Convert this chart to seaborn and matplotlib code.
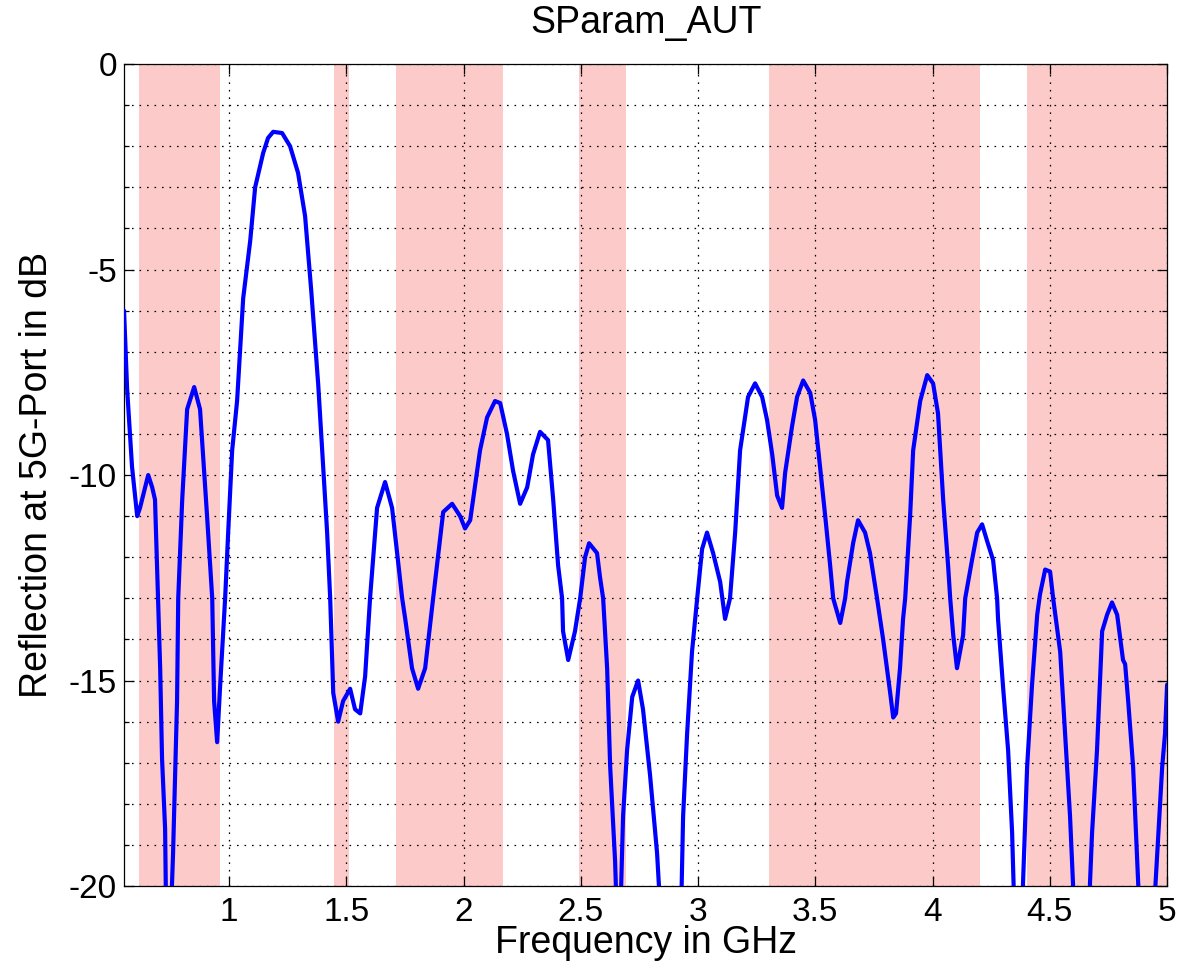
import numpy as np
import pandas as pd
import matplotlib
matplotlib.use("Agg")
import matplotlib.pyplot as plt
import seaborn as sns
from matplotlib.ticker import MultipleLocator, NullLocator, FixedLocator

# ---------------- data ----------------
freq_ghz = [
    0.552, 0.565, 0.586, 0.608, 0.620, 0.655, 0.672, 0.684, 0.697, 0.706,
    0.714, 0.727, 0.731, 0.744, 0.753, 0.761, 0.778, 0.783, 0.800, 0.821,
    0.851, 0.876, 0.906, 0.928, 0.936, 0.949, 0.962, 0.983, 0.996, 1.013,
    1.034, 1.060, 1.090, 1.111, 1.145, 1.166, 1.188, 1.226, 1.260, 1.294,
    1.324, 1.350, 1.380, 1.397, 1.418, 1.431, 1.444, 1.465, 1.486, 1.516,
    1.537, 1.559, 1.580, 1.601, 1.631, 1.665, 1.695, 1.738, 1.751, 1.780,
    1.806, 1.836, 1.870, 1.913, 1.951, 1.985, 2.006, 2.028, 2.070, 2.100,
    2.134, 2.156, 2.185, 2.211, 2.241, 2.271, 2.296, 2.326, 2.360, 2.382,
    2.403, 2.420, 2.424, 2.446, 2.475, 2.497, 2.518, 2.535, 2.569, 2.582,
    2.595, 2.612, 2.625, 2.646, 2.655, 2.667, 2.680, 2.697, 2.719, 2.744,
    2.765, 2.795, 2.825, 2.838, 2.881, 2.928, 2.936, 2.953, 2.974, 2.996,
    3.017, 3.038, 3.064, 3.094, 3.115, 3.136, 3.158, 3.179, 3.213, 3.243,
    3.273, 3.294, 3.316, 3.337, 3.358, 3.371, 3.401, 3.422, 3.448, 3.478,
    3.499, 3.520, 3.542, 3.563, 3.576, 3.606, 3.627, 3.635, 3.661, 3.682,
    3.712, 3.733, 3.763, 3.789, 3.819, 3.832, 3.844, 3.861, 3.874, 3.883,
    3.904, 3.917, 3.947, 3.977, 4.002, 4.023, 4.045, 4.066, 4.075, 4.088,
    4.104, 4.130, 4.139, 4.168, 4.190, 4.211, 4.232, 4.258, 4.275, 4.279,
    4.301, 4.322, 4.339, 4.348, 4.365, 4.382, 4.403, 4.424, 4.446, 4.458,
    4.480, 4.501, 4.514, 4.544, 4.565, 4.586, 4.603, 4.638, 4.667, 4.680,
    4.701, 4.723, 4.744, 4.765, 4.787, 4.812, 4.821, 4.834, 4.855, 4.881,
    4.915, 4.945, 4.979, 4.991, 5.000,
]
refl_db = [
    -6.0, -7.9, -9.8, -11.0, -10.8, -10.0, -10.3, -10.6, -13.0, -14.7,
    -16.9, -18.6, -20.5, -22.0, -20.5, -19.2, -15.5, -13.0, -10.6, -8.4,
    -7.86, -8.4, -11.0, -13.0, -15.5, -16.5, -15.1, -13.0, -11.4, -9.4,
    -8.2, -5.7, -4.3, -3.0, -2.17, -1.8, -1.65, -1.68, -2.0, -2.65,
    -3.7, -5.5, -7.8, -9.4, -11.4, -13.0, -15.3, -16.0, -15.5, -15.2,
    -15.7, -15.8, -14.9, -13.0, -10.8, -10.17, -10.8, -13.0, -13.5, -14.7,
    -15.2, -14.7, -13.0, -10.9, -10.7, -11.0, -11.3, -11.1, -9.4, -8.6,
    -8.2, -8.25, -9.0, -9.9, -10.7, -10.3, -9.5, -8.95, -9.15, -10.6,
    -12.2, -13.0, -13.8, -14.5, -13.8, -13.0, -12.0, -11.66, -11.9, -12.5,
    -13.0, -14.7, -17.1, -19.4, -21.0, -21.0, -18.3, -16.7, -15.4, -15.0,
    -15.7, -17.3, -19.2, -20.5, -24.0, -20.5, -18.3, -16.3, -14.3, -13.0,
    -11.8, -11.4, -11.9, -12.6, -13.5, -13.0, -11.4, -9.4, -8.1, -7.77,
    -8.1, -8.66, -9.5, -10.5, -10.8, -9.95, -8.8, -8.1, -7.7, -8.0,
    -8.66, -9.8, -11.0, -12.2, -13.0, -13.6, -13.0, -12.6, -11.66, -11.1,
    -11.4, -11.9, -13.0, -14.0, -15.3, -15.9, -15.8, -14.7, -13.5, -13.0,
    -11.0, -9.4, -8.2, -7.57, -7.77, -8.5, -10.6, -12.2, -13.0, -13.9,
    -14.7, -13.9, -13.0, -12.07, -11.4, -11.2, -11.6, -12.07, -13.0, -13.5,
    -15.2, -16.7, -18.7, -20.5, -22.0, -20.5, -17.1, -15.1, -13.4, -12.9,
    -12.3, -12.35, -13.0, -14.3, -16.3, -18.3, -20.5, -24.0, -20.5, -18.7,
    -16.7, -13.8, -13.4, -13.1, -13.4, -14.5, -14.6, -15.5, -17.1, -20.5,
    -24.0, -20.5, -17.1, -16.3, -15.1,
]

band_start_ghz = [0.617, 1.449, 1.712, 2.494, 3.303, 4.403]
band_end_ghz = [0.960, 1.511, 2.168, 2.692, 4.203, 5.000]

x_ticks = [1.0, 1.5, 2.0, 2.5, 3.0, 3.5, 4.0, 4.5, 5.0]
x_tick_labels = ["1", "1.5", "2", "2.5", "3", "3.5", "4", "4.5", "5"]
y_ticks = [0, -5, -10, -15, -20]
y_tick_labels = ["0", "-5", "-10", "-15", "-20"]

title_text = "SParam_AUT"
x_label = "Frequency in GHz"
y_label = "Reflection at 5G-Port in dB"

# ---------------- style ----------------
sns.set_style("ticks")
plt.rcParams["font.family"] = ["Liberation Sans", "DejaVu Sans"]
plt.rcParams["axes.linewidth"] = 0.9
for key in ["text.color", "axes.labelcolor", "xtick.color", "ytick.color",
            "xtick.labelcolor", "ytick.labelcolor", "axes.edgecolor"]:
    plt.rcParams[key] = "black"

fig = plt.figure(figsize=(11.77, 9.77), dpi=100)
ax = fig.add_axes([0.1054, 0.0931, 0.8862, 0.8414])

# frequency bands
for s, e in zip(band_start_ghz, band_end_ghz):
    ax.axvspan(s, e, color="#fdcaca", lw=0, zorder=0.2)

df = pd.DataFrame({"freq": freq_ghz, "refl": refl_db})
sns.lineplot(data=df, x="freq", y="refl", ax=ax, color="#0000ff",
             linewidth=3.0, sort=False, estimator=None, zorder=3)

ax.set_xlim(0.552, 5.0)
ax.set_ylim(-20, 0)

ax.xaxis.set_major_locator(FixedLocator(x_ticks))
ax.set_xticklabels(x_tick_labels)
ax.xaxis.set_minor_locator(NullLocator())
ax.yaxis.set_major_locator(FixedLocator(y_ticks))
ax.set_yticklabels(y_tick_labels)
ax.yaxis.set_minor_locator(MultipleLocator(1))

ax.set_axisbelow(True)
grid_kw = dict(color="black", linewidth=0.9, linestyle=(0, (1.3, 4.7)))
ax.grid(True, which="major", axis="both", **grid_kw)
ax.grid(True, which="minor", axis="y", **grid_kw)

ax.tick_params(which="both", direction="in", top=True, right=True,
               color="black", labelcolor="black", width=0.9)
ax.tick_params(which="major", length=7, labelsize=24, pad=8)
ax.tick_params(which="minor", length=3.5)
ax.tick_params(axis="y", which="major", pad=5)

for sp in ax.spines.values():
    sp.set_color("black")
    sp.set_visible(True)

ax.set_title(title_text, fontsize=27, pad=22, color="black")
ax.set_xlabel(x_label, fontsize=27, color="black")
ax.set_ylabel(y_label, fontsize=27, color="black")
ax.xaxis.set_label_coords(0.5, -0.048)
ax.yaxis.set_label_coords(-0.066, 0.5)

fig.savefig("out.png", dpi=100)
